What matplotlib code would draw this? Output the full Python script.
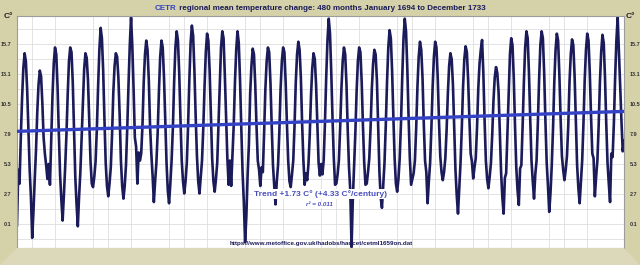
import matplotlib
matplotlib.use("Agg")
import matplotlib.pyplot as plt
from matplotlib.patches import Polygon
import numpy as np

# monthly CETR means (deg C), Jan..Dec
temps_1690s = [
    [0.0, 4.8, 3.6, 7.6, 11.0, 13.6, 14.9, 14.2, 11.8, 8.2, 4.8, 2.4],      # 1694
    [-1.1, 1.2, 4.0, 6.5, 9.8, 12.2, 13.4, 12.9, 10.6, 7.6, 6.2, 5.2],      # 1695
    [4.0, 5.3, 3.5, 7.4, 11.2, 14.0, 15.4, 14.8, 12.0, 8.0, 4.4, 2.2],      # 1696
    [0.4, 2.6, 5.0, 7.8, 11.3, 14.2, 15.4, 15.0, 12.4, 8.4, 4.2, 1.8],      # 1697
    [-0.1, 2.5, 4.6, 7.6, 10.8, 13.5, 14.9, 14.5, 12.6, 9.0, 5.6, 3.6],     # 1698
    [3.3, 4.2, 5.5, 8.3, 12.0, 15.2, 17.1, 16.2, 13.4, 9.2, 5.4, 3.4],      # 1699
]
temps_1700s = [
    [2.5, 3.6, 5.0, 7.8, 11.5, 13.8, 14.9, 14.6, 12.8, 9.6, 5.6, 3.4],      # 1700
    [2.3, 3.4, 5.2, 8.4, 12.2, 15.6, 18.0, 15.5, 11.8, 7.6, 6.8, 3.6],      # 1701
    [6.3, 5.6, 6.2, 8.6, 12.4, 14.8, 16.0, 15.2, 12.6, 8.6, 6.2, 4.3],      # 1702
    [2.0, 3.8, 5.4, 8.0, 11.6, 14.6, 16.0, 15.4, 12.8, 9.0, 5.4, 3.0],      # 1703
    [1.9, 3.6, 5.6, 8.4, 12.4, 15.4, 16.8, 16.0, 13.2, 9.2, 5.6, 3.8],      # 1704
    [2.75, 3.8, 5.4, 8.6, 12.6, 15.8, 17.3, 16.4, 13.4, 9.4, 6.0, 3.8],     # 1705
    [2.75, 4.2, 5.6, 8.4, 12.0, 15.0, 16.6, 16.0, 13.4, 9.6, 5.8, 3.8],     # 1706
    [2.9, 4.0, 5.4, 8.8, 12.4, 15.4, 16.8, 16.2, 13.0, 9.4, 5.8, 3.5],      # 1707
    [5.6, 3.4, 6.0, 8.6, 12.4, 15.2, 16.8, 15.8, 12.6, 8.4, 4.6, 2.0],      # 1708
    [-1.5, 0.8, 4.4, 7.0, 11.4, 13.8, 15.3, 14.8, 12.2, 8.6, 5.6, 4.8],     # 1709
]
temps_1710s = [
    [3.4, 5.0, 4.6, 8.0, 11.8, 14.2, 15.4, 15.0, 12.4, 8.6, 5.2, 3.4],      # 1710
    [1.8, 3.8, 5.2, 8.0, 11.8, 14.2, 15.4, 15.0, 12.4, 8.8, 5.6, 3.8],      # 1711
    [3.3, 4.4, 5.6, 8.6, 12.4, 14.8, 15.9, 15.2, 12.8, 8.8, 5.6, 3.5],      # 1712
    [4.5, 3.9, 5.3, 7.8, 11.2, 13.6, 14.9, 14.4, 12.2, 8.8, 5.4, 4.3],      # 1713
    [5.3, 4.4, 5.6, 8.8, 12.8, 16.0, 17.9, 16.6, 13.2, 9.2, 5.8, 3.5],      # 1714
    [3.6, 4.4, 5.6, 8.4, 11.8, 14.2, 15.4, 14.8, 12.2, 8.2, 5.0, 3.0],      # 1715
    [-1.9, 2.2, 5.0, 8.0, 11.6, 14.2, 15.4, 15.0, 12.4, 8.6, 5.4, 3.5],     # 1716
    [3.6, 4.6, 5.8, 8.4, 11.8, 14.0, 15.2, 14.8, 12.6, 8.6, 4.6, 2.4],      # 1717
    [1.5, 3.4, 5.4, 8.6, 12.4, 15.4, 16.9, 16.2, 13.4, 9.4, 5.8, 3.6],      # 1718
    [2.9, 4.0, 5.8, 8.8, 12.8, 16.2, 17.9, 16.8, 13.6, 9.4, 5.8, 3.5],      # 1719
]
temps_1720s = [
    [4.0, 4.5, 5.6, 8.4, 12.0, 14.6, 15.9, 15.2, 12.8, 8.8, 5.6, 4.6],      # 1720
    [1.9, 3.8, 5.4, 8.4, 12.0, 14.6, 15.9, 15.4, 12.8, 9.0, 6.0, 4.6],      # 1721
    [3.9, 4.6, 5.8, 8.2, 11.4, 13.8, 14.9, 14.4, 12.2, 8.4, 4.8, 2.6],      # 1722
    [1.0, 3.2, 5.4, 8.4, 12.0, 14.4, 15.5, 15.0, 12.6, 9.2, 6.2, 5.5],      # 1723
    [4.05, 5.0, 5.8, 8.4, 11.8, 14.0, 15.2, 16.05, 13.2, 9.0, 5.6, 4.0],    # 1724
    [3.2, 4.2, 5.4, 7.8, 10.8, 12.8, 13.7, 13.2, 11.6, 8.2, 4.6, 2.4],      # 1725
    [1.0, 4.1, 4.5, 8.0, 11.8, 14.8, 16.2, 15.6, 12.8, 8.6, 5.0, 3.0],      # 1726
    [1.75, 4.9, 5.2, 8.6, 12.4, 15.4, 16.8, 16.2, 13.2, 9.2, 5.6, 3.8],     # 1727
    [2.3, 4.4, 5.6, 8.8, 12.6, 15.6, 16.8, 16.2, 13.2, 9.0, 5.4, 3.4],      # 1728
    [1.15, 2.8, 5.2, 8.4, 12.4, 15.2, 16.6, 16.0, 13.0, 9.2, 6.0, 4.8],     # 1729
]
temps_1730s = [
    [3.9, 4.8, 6.0, 8.6, 12.4, 14.8, 16.1, 15.6, 13.0, 9.0, 5.2, 3.2],      # 1730
    [1.9, 3.8, 5.6, 8.8, 12.6, 15.2, 16.6, 16.0, 13.2, 9.4, 6.2, 5.8],      # 1731
    [2.5, 4.2, 5.6, 8.6, 12.4, 15.0, 16.5, 15.8, 12.8, 8.8, 5.4, 3.6],      # 1732
    [2.0, 6.2, 5.9, 8.8, 12.8, 16.0, 18.0, 15.0, 12.0, 9.0, 6.4, 7.3],      # 1733
]

first_year = 1694
trend_start = 8.13      # value of the trend line in Jan 1694
trend_change = 1.73     # C over the 480 months
ytick_vals = [0.1, 2.7, 5.3, 7.9, 10.5, 13.1, 15.7]
xtick_years = [1695, 1700, 1705, 1710, 1715, 1720, 1725, 1730]

title_blue = "CETR"
title_rest = " regional mean temperature change: 480 months January 1694 to December 1733"
trend_label = "Trend +1.73 C\u00b0 (+4.33 C\u00b0/century)"
r2_label = "r\u00b2 = 0.011"
source_url = "https://www.metoffice.gov.uk/hadobs/hadcet/cetml1659on.dat"

navy = "#1b1b5a"
blue = "#3442c6"
label_blue = "#4a4fbd"

plt.rcParams["font.family"] = ["Liberation Sans", "DejaVu Sans"]

temps = np.concatenate([np.ravel(t) for t in
                        (temps_1690s, temps_1700s, temps_1710s, temps_1720s, temps_1730s)])
months = first_year + np.arange(len(temps)) / 12.0

W, H = 640, 265
fig = plt.figure(figsize=(6.4, 2.65), dpi=100, facecolor="#d5d1a9")

# lighter "floor" under the plot
fig.patches.append(Polygon([(17 / W, 17 / H), (624 / W, 17 / H), (1, 0), (0, 0)],
                           closed=True, transform=fig.transFigure,
                           facecolor="#dcd9bb", edgecolor="none", zorder=0))

ax = fig.add_axes([17 / W, 17 / H, 607 / W, 232 / H])
ax.set_facecolor("white")

ax.plot(months, temps, color=navy, lw=1.9, solid_joinstyle="round", zorder=2)
ax.plot([months[0], months[-1]], [trend_start, trend_start + trend_change],
        color=blue, lw=2.4, zorder=3)

ax.set_xlim(months[0], months[-1])
ax.set_ylim(-1.98, 18.13)

ax.set_xticks(xtick_years)
ax.set_xticklabels([str(y) for y in xtick_years])
ax.set_xticks(np.arange(1694, 1734, 2.5), minor=True)
ax.set_yticks(ytick_vals)
ax.set_yticks(np.arange(-1.2, 18.2, 1.3), minor=True)
ax.grid(True, which="both", color="#dedede", lw=0.6, zorder=0)
ax.set_axisbelow(True)

ax.tick_params(which="both", length=0)
ax.tick_params(axis="y", labelleft=True, labelright=True, labelsize=4,
               labelcolor="#333333", pad=4)
ax.tick_params(axis="x", labelsize=5, labelcolor="#3a3a3a", pad=5)
for lab in ax.get_xticklabels() + ax.get_yticklabels():
    lab.set_fontweight("bold")
for s in ax.spines.values():
    s.set_color("#9c9c9c")
    s.set_linewidth(0.8)

# title: first word blue, rest navy
t1 = fig.text(155 / W, 1 - 8 / H, title_blue, color=blue, fontsize=5.8,
              fontweight="bold", va="center", ha="left")
ax.annotate(title_rest, xy=(1, 0.5), xycoords=t1, va="center", ha="left",
            color=navy, fontsize=5.8, fontweight="bold", annotation_clip=False)

fig.text(8 / W, 1 - 16 / H, "C\u00b0", color="#222222", fontsize=6,
         fontweight="bold", ha="center", va="center")
fig.text(630 / W, 1 - 16 / H, "C\u00b0", color="#222222", fontsize=6,
         fontweight="bold", ha="center", va="center")

fig.text(321 / W, 1 - 194 / H, trend_label, color=label_blue, fontsize=6.0,
         fontweight="bold", ha="center", va="center", zorder=5,
         bbox=dict(facecolor="white", edgecolor="none", pad=1.0))
fig.text(319 / W, 1 - 205 / H, r2_label, color=label_blue, fontsize=4.5,
         fontweight="bold", fontstyle="italic", ha="center", va="center", zorder=5,
         bbox=dict(facecolor="white", edgecolor="none", pad=0.5))
fig.text(321 / W, 1 - 243 / H, source_url, color=navy, fontsize=4.5,
         fontweight="bold", ha="center", va="center", zorder=5)

fig.savefig("out.png", dpi=100, facecolor=fig.get_facecolor())
